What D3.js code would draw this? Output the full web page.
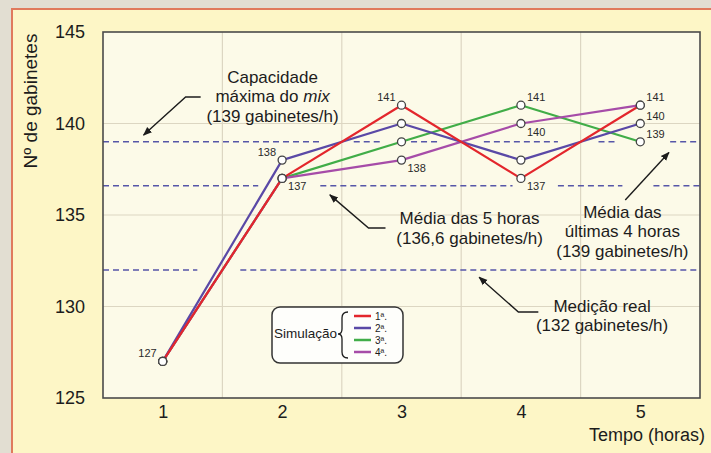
<!DOCTYPE html>
<html>

<head>
    <meta charset="utf-8" />
    <title>Simulação - gabinetes por hora</title>
    <script type="text/javascript" src="https://cdn.jsdelivr.net/npm/d3@7"></script>
    <style>
        body { margin: 0; background: #e2ded2; }
        svg { display: block; font-family: "Liberation Sans", Arial, sans-serif; }
    </style>
</head>

<body>
    <script type="text/javascript">
        // horas simuladas
        const hours = [1, 2, 3, 4, 5];
        const seriesNames = ["1ª.", "2ª.", "3ª.", "4ª."];
        const sim1 = [127, 137, 141, 137, 141];
        const sim2 = [127, 138, 140, 138, 140];
        const sim3 = [127, 137, 139, 141, 139];
        const sim4 = [127, 137, 138, 140, 141];
        const yTicks = [125, 130, 135, 140, 145];
        const gridHours = [1.5, 2.5, 3.5, 4.5];

        // linhas de referência
        const refCapacity = 139;
        const refAvg5 = 136.6;
        const refMeasured = 132;

        // rótulos dos pontos: [hora, valor, posição]
        const pointLabels = [
            [1, 127, "al"], [2, 138, "al"], [2, 137, "br"],
            [3, 141, "al"], [3, 138, "br"],
            [4, 141, "ar"], [4, 140, "br"], [4, 137, "br"],
            [5, 141, "ar"], [5, 140, "ar"], [5, 139, "ar"]
        ];

        const width = 711,
            height = 453,
            margin = { top: 32, left: 103, right: 11, bottom: 55 };

        const colors = ["#e3262c", "#5a49a6", "#41ad48", "#a64ca8"];

        const svg = d3.select("body").append("svg")
            .attr("width", width)
            .attr("height", height);

        // painel amarelo
        svg.append("rect")
            .attr("x", 12).attr("y", 9)
            .attr("width", width + 20).attr("height", height + 20)
            .attr("fill", "#fdf6c6")
            .attr("stroke", "#e07a5c")
            .attr("stroke-width", 2);

        const x = d3.scaleLinear().domain([0.5, 5.5]).range([margin.left, width - margin.right]);
        const y = d3.scaleLinear().domain([125, 145]).range([height - margin.bottom, margin.top]);

        svg.append("rect")
            .attr("x", x(0.5)).attr("y", y(145))
            .attr("width", x(5.5) - x(0.5)).attr("height", y(125) - y(145))
            .attr("fill", "#fcfae8");

        // grade
        const grid = svg.append("g").attr("class", "grid");
        grid.selectAll("line.gx")
            .data(gridHours)
            .enter().append("line")
            .attr("x1", d => x(d)).attr("x2", d => x(d))
            .attr("y1", y(145)).attr("y2", y(125))
            .attr("stroke", "#dcd6c2").attr("stroke-width", 1.2);
        grid.selectAll("line.gy")
            .data(yTicks.slice(1, -1))
            .enter().append("line")
            .attr("x1", x(0.5)).attr("x2", x(5.5))
            .attr("y1", d => y(d)).attr("y2", d => y(d))
            .attr("stroke", "#dcd6c2").attr("stroke-width", 1.2);

        // linhas tracejadas (trechos visíveis, em horas)
        const refLines = [
            { value: refCapacity, parts: [[0.5, 2.34], [2.6, 2.85], [3.08, 3.31], [3.69, 4.31], [4.65, 4.81], [5.25, 5.5]] },
            { value: refAvg5, parts: [[0.5, 1.8], [2.32, 3.93], [4.31, 4.85], [5.11, 5.5]] },
            { value: refMeasured, parts: [[0.5, 1.29], [1.65, 5.5]] }
        ];
        refLines.forEach(function (r) {
            svg.append("g").selectAll("line")
                .data(r.parts)
                .enter().append("line")
                .attr("x1", d => x(d[0])).attr("x2", d => x(d[1]))
                .attr("y1", y(r.value)).attr("y2", y(r.value))
                .attr("stroke", "#5656a8")
                .attr("stroke-width", 1.5)
                .attr("stroke-dasharray", "6,4");
        });

        // moldura
        svg.append("rect")
            .attr("x", x(0.5)).attr("y", y(145))
            .attr("width", x(5.5) - x(0.5)).attr("height", y(125) - y(145))
            .attr("fill", "none")
            .attr("stroke", "#4a4a4a")
            .attr("stroke-width", 1.6);

        // eixos
        const yAxis = d3.axisLeft(y).tickValues(yTicks).tickSize(0).tickPadding(18);
        const xAxis = d3.axisBottom(x).tickValues(hours).tickSize(0).tickPadding(7).tickFormat(d3.format("d"));

        const yG = svg.append("g")
            .attr("transform", `translate(${x(0.5)},0)`)
            .call(yAxis);
        const xG = svg.append("g")
            .attr("transform", `translate(0,${y(125)})`)
            .call(xAxis);
        [yG, xG].forEach(function (g) {
            g.select(".domain").remove();
            g.selectAll("text")
                .attr("font-size", 18)
                .attr("font-family", "Liberation Sans, Arial, sans-serif")
                .attr("fill", "#1c1c1c");
        });

        svg.append("text")
            .attr("transform", "translate(37,101) rotate(-90)")
            .attr("text-anchor", "middle")
            .attr("font-size", 19)
            .attr("fill", "#1c1c1c")
            .text("Nº de gabinetes");

        svg.append("text")
            .attr("x", 705).attr("y", 441)
            .attr("text-anchor", "end")
            .attr("font-size", 18)
            .attr("fill", "#1c1c1c")
            .text("Tempo (horas)");

        // séries (ordem de desenho: 3ª, 4ª, 2ª, 1ª)
        const allSeries = [sim1, sim2, sim3, sim4];
        const series = [2, 3, 1, 0].map(function (i) {
            return { vals: allSeries[i], idx: i };
        });

        const line = d3.line()
            .x((d, i) => x(hours[i]))
            .y(d => y(d));

        svg.append("g").selectAll("path")
            .data(series)
            .enter().append("path")
            .attr("d", d => line(d.vals))
            .attr("fill", "none")
            .attr("stroke", d => colors[d.idx])
            .attr("stroke-width", 2.2)
            .attr("stroke-linejoin", "round");

        const points = [];
        allSeries.forEach(function (vals) {
            vals.forEach(function (v, i) {
                points.push({ h: hours[i], v: v });
            });
        });

        svg.append("g").selectAll("circle")
            .data(points)
            .enter().append("circle")
            .attr("cx", d => x(d.h))
            .attr("cy", d => y(d.v))
            .attr("r", 4)
            .attr("fill", "#ffffff")
            .attr("stroke", "#444")
            .attr("stroke-width", 1.3);

        const labelPos = {
            al: { dx: -6, dy: -4, anchor: "end" },
            ar: { dx: 6, dy: -4, anchor: "start" },
            br: { dx: 6, dy: 12, anchor: "start" }
        };

        svg.append("g").selectAll("text")
            .data(pointLabels)
            .enter().append("text")
            .attr("x", d => x(d[0]) + labelPos[d[2]].dx)
            .attr("y", d => y(d[1]) + labelPos[d[2]].dy)
            .attr("text-anchor", d => labelPos[d[2]].anchor)
            .attr("font-size", 11)
            .attr("fill", "#2a2a2a")
            .text(d => d[1]);

        // anotações
        const notes = [
            { h: 1.92, v: 142.24, lines: ["Capacidade", "máxima do |mix|", "(139 gabinetes/h)"], arrow: [[1.318, 141.45], [1.192, 141.45], [0.84, 139.37]] },
            { h: 3.57, v: 134.49, lines: ["Média das 5 horas", "(136,6 gabinetes/h)"], arrow: [[2.866, 134.29], [2.724, 134.29], [2.4, 136.1]] },
            { h: 4.85, v: 134.86, lines: ["Média das", "últimas 4 horas", "(139 gabinetes/h)"], arrow: [[4.874, 135.82], [5.24, 138.42]] },
            { h: 4.68, v: 129.71, lines: ["Medição real", "(132 gabinetes/h)"], arrow: [[4.146, 129.7], [3.979, 129.7], [3.65, 131.6]] }
        ];
        const noteSize = 17,
            noteLead = 19.5;

        svg.append("defs").append("marker")
            .attr("id", "head")
            .attr("viewBox", "0 0 10 10")
            .attr("refX", 9).attr("refY", 5)
            .attr("markerWidth", 9).attr("markerHeight", 9)
            .attr("markerUnits", "userSpaceOnUse")
            .attr("orient", "auto")
            .append("path")
            .attr("d", "M0,1 L10,5 L0,9 Z")
            .attr("fill", "#1c1c1c");

        const arrowLine = d3.line()
            .x(d => x(d[0]))
            .y(d => y(d[1]));

        notes.forEach(function (n) {
            n.lines.forEach(function (l, i) {
                const t = svg.append("text")
                    .attr("x", x(n.h))
                    .attr("y", y(n.v) + i * noteLead)
                    .attr("text-anchor", "middle")
                    .attr("font-size", noteSize)
                    .attr("fill", "#1c1c1c");
                l.split("|").forEach(function (p, j) {
                    if (!p) return;
                    t.append("tspan")
                        .attr("font-style", j % 2 ? "italic" : "normal")
                        .text(p);
                });
            });
            svg.append("path")
                .attr("d", arrowLine(n.arrow))
                .attr("fill", "none")
                .attr("stroke", "#1c1c1c")
                .attr("stroke-width", 1.4)
                .attr("marker-end", "url(#head)");
        });

        // legenda
        const lg = svg.append("g");
        lg.append("rect")
            .attr("x", 272).attr("y", 307)
            .attr("width", 131).attr("height", 56)
            .attr("rx", 8)
            .attr("fill", "#fefefb")
            .attr("stroke", "#333")
            .attr("stroke-width", 1.5);
        lg.append("text")
            .attr("x", 274).attr("y", 338)
            .attr("font-size", 13.5)
            .attr("fill", "#1c1c1c")
            .text("Simulação");
        lg.append("path")
            .attr("d", "M348,312 Q342,312 342,318 L342,329 Q342,334 338,334 Q342,334 342,339 L342,352 Q342,358 348,358")
            .attr("fill", "none")
            .attr("stroke", "#1c1c1c")
            .attr("stroke-width", 1.3);
        const items = lg.selectAll("g.item")
            .data(seriesNames)
            .enter().append("g")
            .attr("transform", (d, i) => `translate(354,${316 + i * 12})`);
        items.append("line")
            .attr("x1", 0).attr("x2", 17)
            .attr("stroke", (d, i) => colors[i])
            .attr("stroke-width", 2.5);
        items.append("text")
            .attr("x", 21).attr("y", 4)
            .attr("font-size", 10)
            .attr("fill", "#1c1c1c")
            .text(d => d);
    </script>
</body>

</html>
